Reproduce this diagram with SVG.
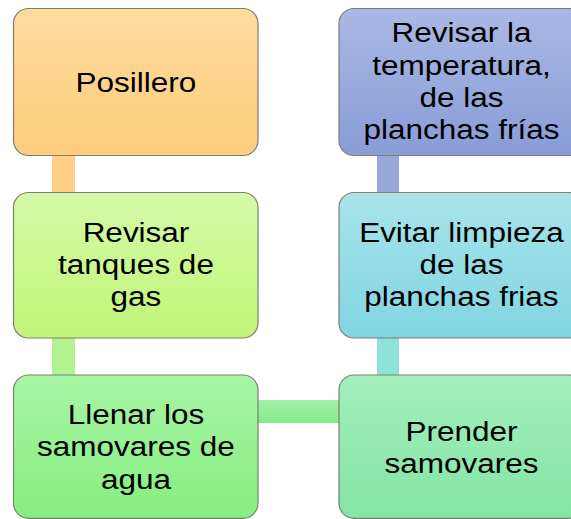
<svg xmlns="http://www.w3.org/2000/svg" width="571" height="519" viewBox="0 0 571 519">
<style>
.box{stroke:#7e7e74;stroke-width:1.2}
.t{font-family:"Liberation Sans",Arial,sans-serif;font-size:31.5px;fill:#000;text-anchor:middle}
</style>
<defs>
<linearGradient id="g1" x1="0" y1="0" x2="0" y2="1"><stop offset="0" stop-color="#FEDB9E"/><stop offset="1" stop-color="#FDCD7B"/></linearGradient>
<linearGradient id="g2" x1="0" y1="0" x2="0" y2="1"><stop offset="0" stop-color="#D5FAA7"/><stop offset="1" stop-color="#C1F578"/></linearGradient>
<linearGradient id="g3" x1="0" y1="0" x2="0" y2="1"><stop offset="0" stop-color="#A8F4A4"/><stop offset="1" stop-color="#86EE80"/></linearGradient>
<linearGradient id="g4" x1="0" y1="0" x2="0" y2="1"><stop offset="0" stop-color="#AAB8E4"/><stop offset="1" stop-color="#889CD6"/></linearGradient>
<linearGradient id="g5" x1="0" y1="0" x2="0" y2="1"><stop offset="0" stop-color="#A8E4E9"/><stop offset="1" stop-color="#80D5E1"/></linearGradient>
<linearGradient id="g6" x1="0" y1="0" x2="0" y2="1"><stop offset="0" stop-color="#A4EEBD"/><stop offset="1" stop-color="#82E5A5"/></linearGradient>
<linearGradient id="gc" x1="0" y1="0" x2="0" y2="1"><stop offset="0" stop-color="#A4EFA9"/><stop offset="1" stop-color="#84EA8C"/></linearGradient>
</defs>
<g id="connectors">
<rect x="52" y="155" width="23" height="38" fill="#FDCF87"/>
<rect x="52" y="337" width="23" height="39" fill="#B2F28F"/>
<rect x="257" y="400" width="82" height="23" fill="url(#gc)"/>
<rect x="377" y="337" width="22" height="39" fill="#8EE3D8"/>
<rect x="377" y="155" width="22" height="38" fill="#97A7DA"/>
</g>
<g id="n1"><rect class="box" x="13.5" y="8.5" width="244.5" height="147" rx="15" fill="url(#g1)"/><text class="t" transform="scale(1,0.88)" x="136" y="104.55">Posillero</text></g>
<g id="n2"><rect class="box" x="13.5" y="192.5" width="244.5" height="145.5" rx="15" fill="url(#g2)"/><text class="t" transform="scale(1,0.88)"><tspan x="136" y="274.66">Revisar</tspan><tspan x="136" y="311.36">tanques de</tspan><tspan x="136" y="348.07">gas</tspan></text></g>
<g id="n3"><rect class="box" x="13.5" y="375" width="244.5" height="143.3" rx="15" fill="url(#g3)"/><text class="t" transform="scale(1,0.88)"><tspan x="136" y="481.82">Llenar los</tspan><tspan x="136" y="518.52">samovares de</tspan><tspan x="136" y="555.23">agua</tspan></text></g>
<g id="n4"><rect class="box" x="339" y="8.5" width="245" height="147" rx="15" fill="url(#g4)"/><text class="t" transform="scale(1,0.88)"><tspan x="461.5" y="48.3">Revisar la</tspan><tspan x="461.5" y="85">temperatura,</tspan><tspan x="461.5" y="121.7">de las</tspan><tspan x="461.5" y="158.41">planchas frías</tspan></text></g>
<g id="n5"><rect class="box" x="339" y="192.5" width="245" height="145.5" rx="15" fill="url(#g5)"/><text class="t" transform="scale(1,0.88)"><tspan x="461.5" y="274.66">Evitar limpieza</tspan><tspan x="461.5" y="311.36">de las</tspan><tspan x="461.5" y="348.07">planchas frias</tspan></text></g>
<g id="n6"><rect class="box" x="339" y="375" width="245" height="143.3" rx="15" fill="url(#g6)"/><text class="t" transform="scale(1,0.88)"><tspan x="461.5" y="501.14">Prender</tspan><tspan x="461.5" y="537.84">samovares</tspan></text></g>
</svg>
